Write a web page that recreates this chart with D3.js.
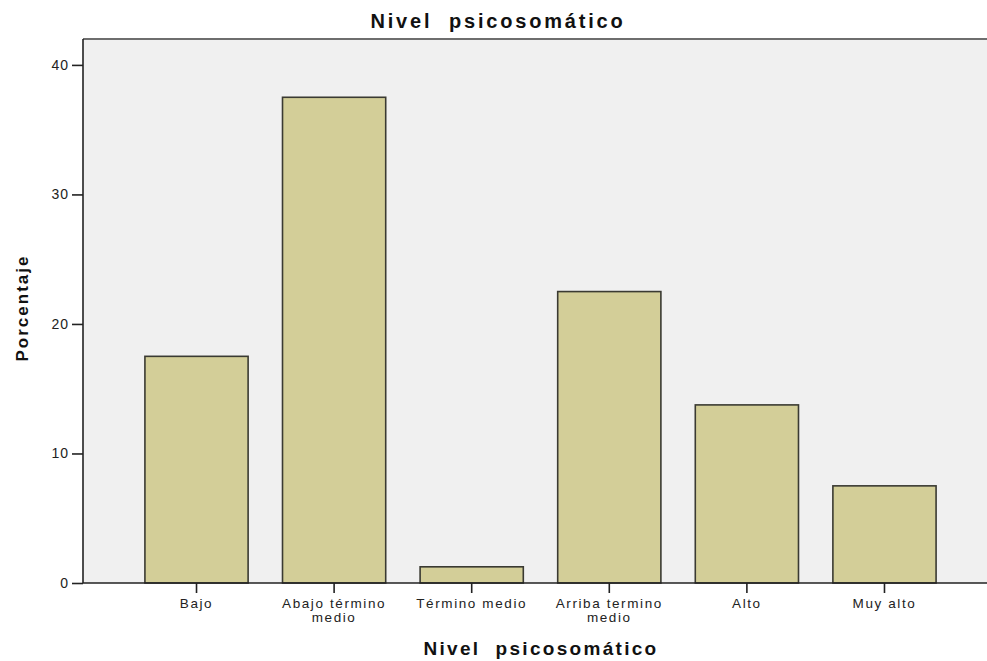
<!DOCTYPE html>
<html>
<head>
<meta charset="utf-8">
<script src="https://cdn.jsdelivr.net/npm/d3@7"></script>
<style>
  html, body { margin: 0; padding: 0; background: #fff; }
  svg { display: block; font-family: "Liberation Sans", Arial, sans-serif; }
  text { white-space: pre; }
</style>
</head>
<body>
<svg id="chart" width="987" height="661"></svg>
<script>
const categories = ["Bajo", "Abajo término\nmedio", "Término medio", "Arriba termino\nmedio", "Alto", "Muy alto"];
const values = [17.5, 37.5, 1.25, 22.5, 13.75, 7.5];
const yTicks = [0, 10, 20, 30, 40];
const chartTitle = "Nivel  psicosomático";
const xTitle = "Nivel  psicosomático";
const yTitle = "Porcentaje";

(function () {
const svg = d3.select("#chart");
const pL = 83, pT = 39, pB = 583, pR = 998;

const x = d3.scaleBand().domain(categories).range([pL, pR]).paddingInner(0.25).paddingOuter(0.45);
const y = d3.scaleLinear().domain([0, 42]).range([pB, pT]);

// plot background
svg.append("rect").attr("x", pL).attr("y", pT).attr("width", pR - pL).attr("height", pB - pT)
  .attr("fill", "#f0f0f0");
// top frame line
svg.append("line").attr("x1", pL).attr("x2", pR).attr("y1", pT).attr("y2", pT)
  .attr("stroke", "#6e6e6e").attr("stroke-width", 2);

// bars
svg.append("g").selectAll("rect").data(values).join("rect")
  .attr("x", (d, i) => x(categories[i]))
  .attr("y", d => y(d))
  .attr("width", x.bandwidth())
  .attr("height", d => y(0) - y(d))
  .attr("fill", "#d3ce98")
  .attr("stroke", "#3a3a32")
  .attr("stroke-width", 1.6);

// y axis
const yAxis = svg.append("g").attr("transform", `translate(${pL},0)`)
  .call(d3.axisLeft(y).tickValues(yTicks).tickSize(11).tickPadding(3).tickFormat(d3.format("d")));
yAxis.select(".domain").attr("d", `M0,${pT}V${pB}`).attr("stroke", "#222").attr("stroke-width", 1.6);
yAxis.selectAll(".tick line").attr("stroke", "#222").attr("stroke-width", 1.6);
yAxis.selectAll(".tick text").attr("font-size", 14).attr("fill", "#222")
  .attr("font-family", "Liberation Sans, Arial, sans-serif").style("letter-spacing", "1px");

// x axis
const xAxis = svg.append("g").attr("transform", `translate(0,${pB})`)
  .call(d3.axisBottom(x).tickSize(10).tickFormat(""));
xAxis.select(".domain").attr("d", `M${pL},0H${pR}`).attr("stroke", "#222").attr("stroke-width", 1.6);
xAxis.selectAll(".tick line").attr("stroke", "#222").attr("stroke-width", 1.6);

// x tick labels (multi-line)
const lab = svg.append("g");
categories.forEach(c => {
  const lines = c.split("\n");
  const cx = x(c) + x.bandwidth() / 2;
  lines.forEach((l, i) => {
    lab.append("text").attr("x", cx).attr("y", pB + 25 + i * 14)
      .attr("text-anchor", "middle").attr("font-size", 13.5).attr("fill", "#222")
      .style("letter-spacing", "1.6px").text(l);
  });
});

// titles
svg.append("text").attr("x", 498).attr("y", 28).attr("text-anchor", "middle")
  .attr("font-size", 20).attr("font-weight", "bold").attr("fill", "#111")
  .style("letter-spacing", "2.8px").text(chartTitle);
svg.append("text").attr("x", 541).attr("y", 655).attr("text-anchor", "middle")
  .attr("font-size", 19).attr("font-weight", "bold").attr("fill", "#111")
  .style("letter-spacing", "2.3px").text(xTitle);
svg.append("text").attr("transform", `translate(28,308) rotate(-90)`)
  .attr("text-anchor", "middle").attr("font-size", 17).attr("font-weight", "bold").attr("fill", "#111")
  .style("letter-spacing", "2px").text(yTitle);
})();
</script>
</body>
</html>
